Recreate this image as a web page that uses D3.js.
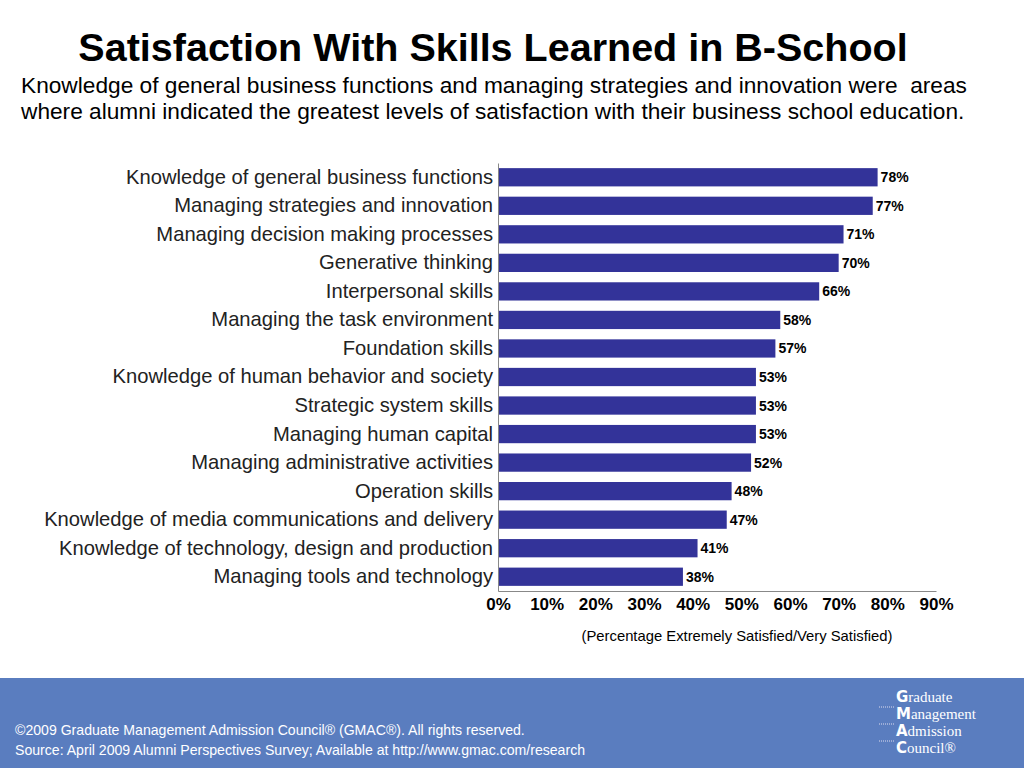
<!DOCTYPE html>
<html>
<head>
<meta charset="utf-8">
<script src="https://cdn.jsdelivr.net/npm/d3@7"></script>
<style>
body { margin: 0; background: #fff; }
svg { display: block; font-family: "Liberation Sans", Arial, sans-serif; }
</style>
</head>
<body>
<svg id="chart" width="1024" height="768"></svg>
<script>
const categories = [
	'Knowledge of general business functions',
	'Managing strategies and innovation',
	'Managing decision making processes',
	'Generative thinking',
	'Interpersonal skills',
	'Managing the task environment',
	'Foundation skills',
	'Knowledge of human behavior and society',
	'Strategic system skills',
	'Managing human capital',
	'Managing administrative activities',
	'Operation skills',
	'Knowledge of media communications and delivery',
	'Knowledge of technology, design and production',
	'Managing tools and technology'
];
const values = [78, 77, 71, 70, 66, 58, 57, 53, 53, 53, 52, 48, 47, 41, 38];
const xTicks = [0, 10, 20, 30, 40, 50, 60, 70, 80, 90];

let svg = d3.select('#chart');

svg.append('text').attr('x', 493).attr('y', 61).attr('text-anchor', 'middle')
	.attr('font-size', 39.5).attr('font-weight', 'bold').attr('fill', '#000')
	.text('Satisfaction With Skills Learned in B-School');
svg.append('text').attr('x', 21).attr('y', 93).attr('font-size', 22.7).attr('fill', '#000')
	.style('white-space', 'pre')
	.text('Knowledge of general business functions and managing strategies and innovation were  areas');
svg.append('text').attr('x', 21).attr('y', 119).attr('font-size', 22.7).attr('fill', '#000')
	.text('where alumni indicated the greatest levels of satisfaction with their business school education.');

let x = d3.scaleLinear().domain([0, 90]).range([498, 936]);
let y = d3.scaleBand().domain(categories).range([163, 591]).paddingInner(0.36).paddingOuter(0.18);

svg.append('g').selectAll('rect')
	.data(values)
	.enter().append('rect')
		.attr('x', x(0))
		.attr('y', (d, i) => y(categories[i]))
		.attr('width', (d) => x(d) - x(0))
		.attr('height', y.bandwidth())
		.attr('fill', '#333399');

svg.append('g').selectAll('text')
	.data(values)
	.enter().append('text')
		.attr('x', (d) => x(d) + 3)
		.attr('y', (d, i) => y(categories[i]) + y.bandwidth() / 2 + 5)
		.attr('font-size', 14).attr('font-weight', 'bold')
		.text((d) => d + '%');

let yAxis = d3.axisLeft(y).tickSize(0).tickPadding(5);
let yg = svg.append('g').attr('transform', `translate(${x(0)},0)`).call(yAxis);
yg.selectAll('text').attr('fill', '#222').attr('font-family', '"Liberation Sans", sans-serif').style('font-size', '20.2px');
yg.select('.domain').attr('stroke', '#888');

let xAxis = d3.axisBottom(x).tickValues(xTicks).tickSize(0).tickPadding(7).tickFormat((d) => d + '%');
let xg = svg.append('g').attr('transform', 'translate(0,591)').call(xAxis);
xg.selectAll('text').attr('font-family', '"Liberation Sans", sans-serif').style('font-size', '17px').attr('font-weight', 'bold').attr('fill', '#000');
xg.select('.domain').attr('stroke', '#888');

svg.append('text').attr('x', 737).attr('y', 641).attr('text-anchor', 'middle')
	.attr('font-size', 14.8).text('(Percentage Extremely Satisfied/Very Satisfied)');

// footer band
svg.append('rect').attr('x', 0).attr('y', 678).attr('width', 1024).attr('height', 90).attr('fill', '#5a7dbf');
svg.append('text').attr('x', 15).attr('y', 735).attr('font-size', 14.1).attr('fill', '#fff')
	.text('©2009 Graduate Management Admission Council® (GMAC®). All rights reserved.');
svg.append('text').attr('x', 15).attr('y', 755).attr('font-size', 14.1).attr('fill', '#fff')
	.text('Source: April 2009 Alumni Perspectives Survey; Available at http://www.gmac.com/research');

let logo = [['G', 'raduate'], ['M', 'anagement'], ['A', 'dmission'], ['C', 'ouncil®']];
logo.forEach((w, i) => {
	let t = svg.append('text').attr('x', 896).attr('y', 702 + i * 17)
		.attr('font-size', 15).attr('fill', '#fff').attr('font-family', '"Liberation Serif", serif');
	t.append('tspan').attr('font-weight', 'bold').attr('font-family', '"DejaVu Sans", sans-serif').text(w[0]);
	t.append('tspan').text(w[1]);
	if (i > 0) svg.append('line').attr('x1', 879).attr('x2', 895).attr('y1', 690 + i * 17).attr('y2', 690 + i * 17)
		.attr('stroke', '#dde').attr('stroke-dasharray', '1,1');
});
</script>
</body>
</html>
